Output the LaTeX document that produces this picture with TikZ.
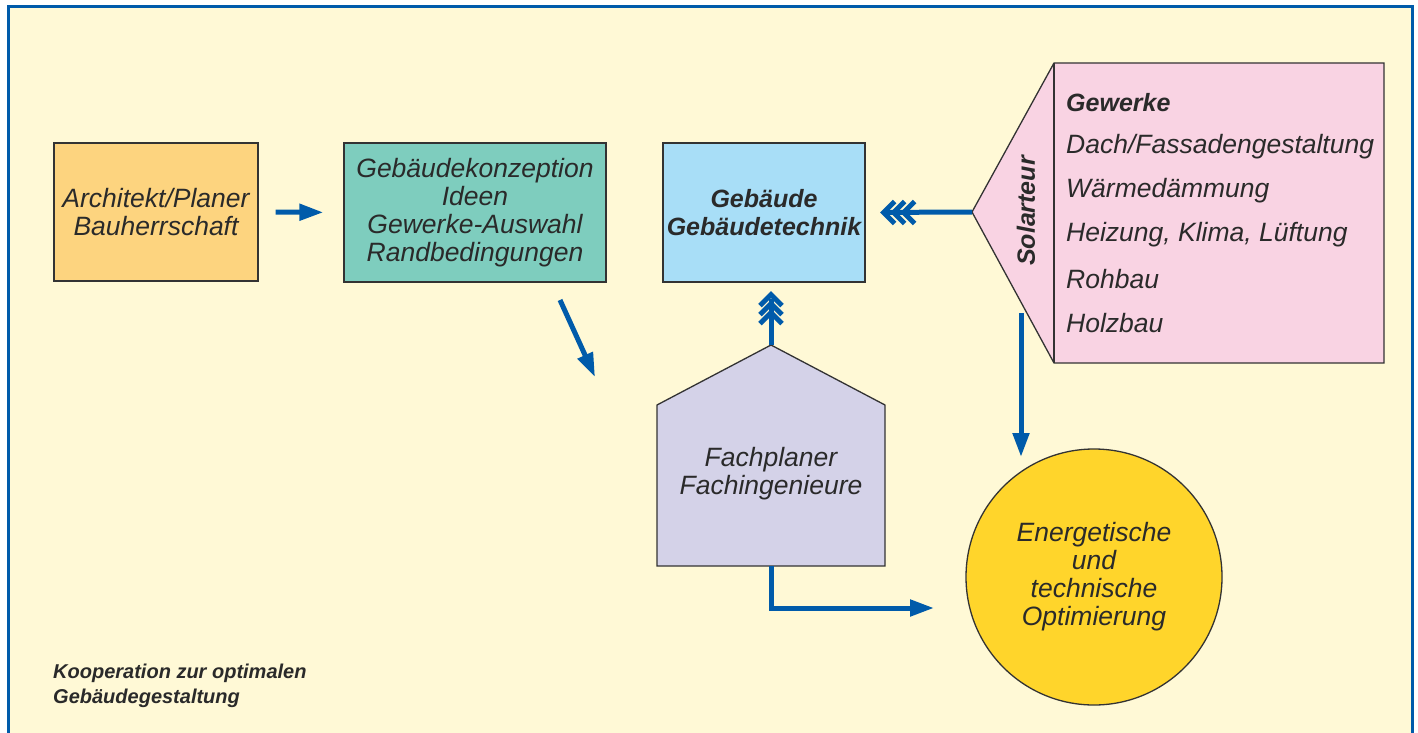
\documentclass[tikz,border=0pt]{standalone}
\usepackage{fontspec}
\setmainfont{Liberation Sans}
\usetikzlibrary{arrows.meta}
\definecolor{bg}{HTML}{FFF9D6}
\definecolor{fblue}{HTML}{005BAA}
\definecolor{archfill}{HTML}{FDD47F}
\definecolor{konzfill}{HTML}{7ECDBE}
\definecolor{gebfill}{HTML}{A8DEF7}
\definecolor{solfill}{HTML}{F9D3E3}
\definecolor{fachfill}{HTML}{D4D2E8}
\definecolor{optfill}{HTML}{FFD52B}
\definecolor{txt}{HTML}{2A2A2A}
\definecolor{edge}{HTML}{333333}
\tikzset{
  box/.style={draw=edge, line width=1.3pt, inner sep=0pt, align=center, text=txt,
    font=\fontsize{26.5}{28}\selectfont\itshape},
  lbl/.style={inner sep=0pt, align=center, text=txt, font=\fontsize{26.5}{28}\selectfont\itshape},
  bfont/.style={font=\fontsize{25}{28}\selectfont\bfseries\itshape},
  conn/.style={fblue, line width=5pt, -{Triangle[length=24pt,width=16pt]}},
  plain/.style={fblue, line width=5pt},
  chev/.style={fblue, line width=5pt, miter limit=3},
}
\begin{document}
\begin{tikzpicture}[x=1pt,y=-1pt]
\useasboundingbox (0,0) rectangle (1418,733);
\fill[white] (0,0) rectangle (1418,733);
\fill[bg] (8,7) rectangle (1412,733);
\draw[fblue, line width=3pt] (8,733) -- (8,7) -- (1412,7) -- (1412,733);

% boxes
\node[box, fill=archfill, minimum width=204pt, minimum height=138pt] (arch) at (156,212)
  {Architekt/Planer\\Bauherrschaft};
\node[box, fill=konzfill, minimum width=262pt, minimum height=139pt] (konz) at (475,212.5)
  {Gebäudekonzeption\\Ideen\\Gewerke-Auswahl\\Randbedingungen};
\node[box, bfont, fill=gebfill, minimum width=202pt, minimum height=139pt] (geb) at (764,212.5)
  {Gebäude\\Gebäudetechnik};

% Solarteur shape
\coordinate (soltip) at (972,212);
\filldraw[fill=solfill, draw=edge, line width=1.3pt] (soltip) -- (1054,63) -- (1384,63) -- (1384,363) -- (1054,363) -- cycle;
\draw[edge, line width=1.3pt] (1054,63) -- (1054,363);
\node[lbl, bfont, rotate=90] (sol) at (1026,211) {Solarteur};
\node[lbl, bfont, anchor=west] (gw0) at (1066,103) {Gewerke};
\node[lbl, anchor=west] (gw1) at (1066,147) {Dach/Fassadengestaltung};
\node[lbl, anchor=west] (gw2) at (1066,191) {Wärmedämmung};
\node[lbl, anchor=west] (gw3) at (1066,235) {Heizung, Klima, Lüftung};
\node[lbl, anchor=west] (gw4) at (1066,279) {Rohbau};
\node[lbl, anchor=west] (gw5) at (1066,323) {Holzbau};

% Fachplaner house
\coordinate (peak) at (771,345);
\filldraw[fill=fachfill, draw=edge, line width=1.3pt] (peak) -- (885,405) -- (885,566) -- (657,566) -- (657,405) -- cycle;
\node[lbl] (fach) at (771,474) {Fachplaner\\Fachingenieure};
\coordinate (fachbot) at (771,566);

% circle
\node[box, circle, fill=optfill, minimum size=256pt] (opt) at (1094,577)
  {Energetische\\und\\technische\\Optimierung};

% caption
\node[anchor=north west, inner sep=0pt, align=left, text=txt,
  font=\fontsize{20}{25}\selectfont\bfseries\itshape] (cap) at (53,664)
  {Kooperation zur optimalen\\Gebäudegestaltung};

% connectors
\draw[conn, shorten <=17pt, shorten >=20pt] (arch.east) -- (konz.west);
\coordinate (k1) at (560,300);
\coordinate (k2) at (595,377);
\draw[conn] (k1) -- (k2);

% Solarteur -> Gebaeude, triple chevron head
\draw[plain, shorten >=20pt] (soltip) -- (geb.east);
\foreach \d in {0,10,20}
  \draw[chev] ([shift={(\d+29,-11)}]geb.east) -- ([shift={(\d+18,0)}]geb.east) -- ([shift={(\d+29,11)}]geb.east);

% Fachplaner -> Gebaeude, triple chevron head
\coordinate (gebin) at (peak |- geb.south);
\draw[plain, shorten >=16pt] (peak) -- (gebin);
\foreach \d in {0,9,18}
  \draw[chev] ([shift={(-11,\d+23)}]gebin) -- ([shift={(0,\d+12)}]gebin) -- ([shift={(11,\d+23)}]gebin);

\coordinate (s1) at (1021,313);
\coordinate (s2) at (1021,457);
\draw[conn] (s1) -- (s2);
\coordinate (f2) at (934,608);
\draw[conn] (fachbot) |- (f2);
\end{tikzpicture}
\end{document}
